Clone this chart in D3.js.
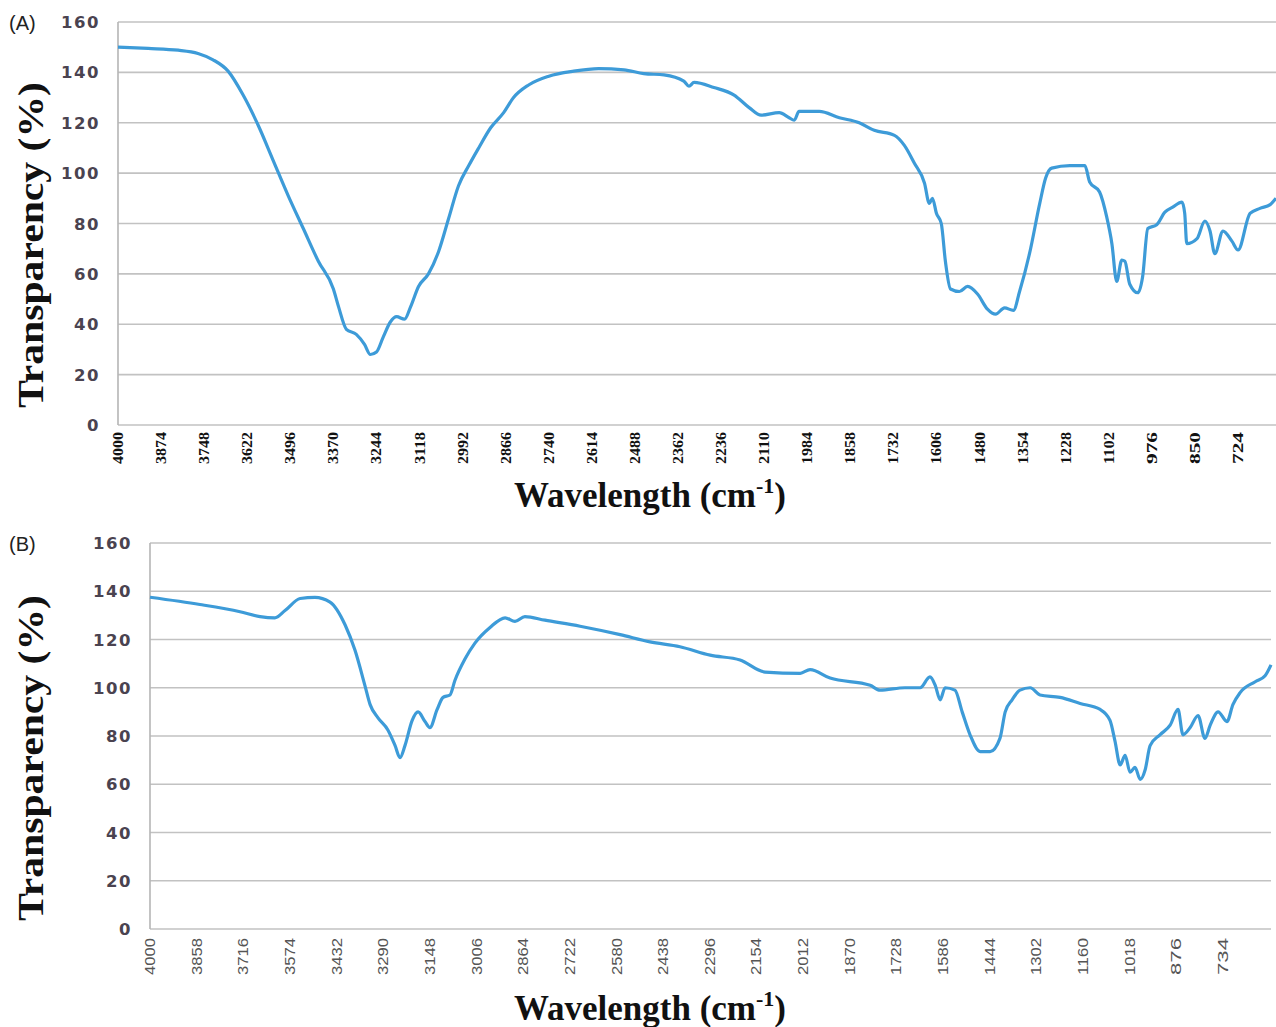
<html>
<head>
	<meta charset="utf-8">
	<script type="text/javascript" src="https://cdnjs.cloudflare.com/ajax/libs/d3/7.8.5/d3.min.js"></script>
	<style>
		body { margin: 0; background: #fff; }
	</style>
	<script type="text/javascript">
		// Panel A spectrum: wavenumber (cm-1) and transparency (%)
		var waveA = [4000, 3912, 3824, 3766, 3722, 3678, 3634, 3590, 3546, 3502, 3458, 3414, 3370, 3355, 3332, 3303,
			3279, 3262, 3244, 3224, 3203, 3185, 3162, 3144, 3121, 3092, 3062, 3033, 3004, 2974, 2945, 2910, 2872, 2843,
			2799, 2740, 2667, 2594, 2520, 2462, 2403, 2345, 2330, 2315, 2257, 2198, 2154, 2119, 2066, 2037, 2022, 2008,
			1949, 1890, 1832, 1788, 1729, 1700, 1671, 1641, 1627, 1618, 1606, 1592, 1580, 1565, 1539, 1515, 1486, 1457,
			1433, 1407, 1381, 1363, 1334, 1304, 1287, 1269, 1216, 1172, 1158, 1129, 1108, 1093, 1079, 1064, 1055, 1041,
			1017, 1003, 988, 962, 938, 915, 888, 880, 874, 844, 821, 806, 792, 768, 742, 724, 689, 660, 630, 613];
		var transA = [150, 149.5, 148.8, 147.5, 145, 140.5, 131, 119, 105, 91, 78, 65, 54, 47, 38, 36,
			32, 28, 29, 35, 41, 43, 42, 47, 55, 60, 69, 82, 95, 103, 110, 118, 124, 130,
			135, 138.5, 140.5, 141.5, 141, 139.5, 139, 136.5, 134.5, 136, 134, 131, 126, 123, 124, 122, 121, 124.5,
			124.5, 122, 120, 117, 115, 111, 104, 96, 88, 90, 84, 80, 65, 54, 53, 55, 52, 46,
			44, 46.5, 45.5, 53, 68, 88, 98, 102, 103, 103, 96.5, 92.5, 82.5, 72, 57, 65.5, 65, 56,
			52.5, 59, 78, 79.5, 84.5, 86.5, 88.5, 84, 72, 74, 81, 77, 68, 77, 73, 69.5, 84, 86, 87.5, 90];

		// Panel B spectrum
		var waveB = [4000, 3848, 3726, 3665, 3620, 3589, 3543, 3498, 3452, 3406, 3376, 3346, 3330, 3306, 3276, 3254,
			3239, 3224, 3202, 3184, 3163, 3148, 3126, 3108, 3087, 3072, 3041, 3011, 2965, 2919, 2889, 2859, 2798, 2691,
			2569, 2478, 2387, 2295, 2204, 2128, 2021, 1991, 1930, 1808, 1778, 1702, 1656, 1626, 1610, 1595, 1580, 1550,
			1528, 1504, 1473, 1443, 1413, 1397, 1376, 1352, 1321, 1291, 1230, 1169, 1108, 1078, 1063, 1047, 1032, 1017,
			1002, 986, 971, 956, 926, 895, 871, 856, 834, 810, 789, 773, 749, 722, 704, 682, 636, 606, 588];
		var transB = [137.5, 134.5, 131.5, 129.5, 129, 132, 137, 137.5, 135.5, 126, 115.5, 101, 93, 87.5, 82.5, 76,
			71, 76, 86.5, 90, 86, 83.5, 91, 96, 97, 103, 112, 118.5, 125, 129, 127.5, 129.5, 128, 125.5,
			122, 119, 117, 113.5, 111.5, 106.5, 106, 107.5, 104, 101, 99, 100, 100, 104.5, 101, 95, 100, 99,
			90, 80.5, 73.5, 73.5, 79, 90, 95, 99, 100, 97, 96, 93.5, 91, 86.5, 78, 68, 72, 65,
			67, 62, 66, 76, 80.5, 84.5, 91, 80.5, 83.5, 88.5, 79, 84.5, 90, 86, 93, 98, 102.5, 105, 109.5];

		// Axis tick labels
		var ticksA = [4000, 3874, 3748, 3622, 3496, 3370, 3244, 3118, 2992, 2866, 2740, 2614, 2488, 2362,
			2236, 2110, 1984, 1858, 1732, 1606, 1480, 1354, 1228, 1102, 976, 850, 724];
		var ticksB = [4000, 3858, 3716, 3574, 3432, 3290, 3148, 3006, 2864, 2722, 2580, 2438, 2296,
			2154, 2012, 1870, 1728, 1586, 1444, 1302, 1160, 1018, 876, 734];
		var yTicks = [0, 20, 40, 60, 80, 100, 120, 140, 160];

		function drawPanel(svg, p) {
			var x = d3.scaleLinear().domain(p.xDomain).range([p.left, p.right]);
			var y = d3.scaleLinear().domain([0, 160]).range([p.bottom, p.top]);
			var g = svg.append("g");

			// gridlines
			g.selectAll("line.grid").data(yTicks).enter().append("line")
				.attr("x1", p.left).attr("x2", p.right)
				.attr("y1", function(d) { return y(d); })
				.attr("y2", function(d) { return y(d); })
				.attr("stroke", "#c2c2c2").attr("stroke-width", 1.6);

			// left axis line
			g.append("line")
				.attr("x1", p.left).attr("x2", p.left)
				.attr("y1", p.top).attr("y2", p.bottom)
				.attr("stroke", "#b5b5b5").attr("stroke-width", 1.6);

			// y tick labels
			g.selectAll("text.ytick").data(yTicks).enter().append("text")
				.attr("x", p.left - 18)
				.attr("y", function(d) { return y(d) + 6; })
				.attr("text-anchor", "end")
				.attr("font-family", "DejaVu Sans")
				.attr("font-weight", "bold")
				.attr("font-size", 16.5)
				.attr("letter-spacing", 1.5)
				.attr("fill", "#4a4350")
				.text(function(d) { return d; });

			// x tick labels, rotated
			g.selectAll("text.xtick").data(p.ticks).enter().append("text")
				.attr("transform", function(d) { return "translate(" + (x(d) + 5) + "," + (p.bottom + p.tickGap) + ") rotate(-90)"; })
				.attr("text-anchor", "end")
				.attr("font-family", p.tickFont)
				.attr("font-weight", p.tickWeight)
				.attr("font-size", p.tickSize)
				.attr("textLength", p.tickLen)
				.attr("lengthAdjust", "spacingAndGlyphs")
				.attr("fill", p.tickColor)
				.text(function(d) { return d; });

			// spectrum
			var pts = p.wave.map(function(w, i) { return [w, p.trans[i]]; });
			var line = d3.line()
				.x(function(d) { return x(d[0]); })
				.y(function(d) { return y(d[1]); })
				.curve(d3.curveMonotoneX);
			g.append("path")
				.attr("d", line(pts))
				.attr("fill", "none")
				.attr("stroke", "#3d9bd8")
				.attr("stroke-width", 3.2)
				.attr("stroke-linejoin", "round");

			// y title
			g.append("text")
				.attr("transform", "translate(" + 43 + "," + p.yTitleY + ") rotate(-90)")
				.attr("text-anchor", "middle")
				.attr("font-family", "Liberation Serif")
				.attr("font-weight", "bold")
				.attr("font-size", 35)
				.attr("textLength", 326)
				.attr("lengthAdjust", "spacingAndGlyphs")
				.attr("fill", "#111")
				.text("Transparency (%)");

			// x title with superscript
			var xt = g.append("text")
				.attr("x", 650).attr("y", p.xTitleY)
				.attr("text-anchor", "middle")
				.attr("font-family", "Liberation Serif")
				.attr("font-weight", "bold")
				.attr("font-size", 35)
				.attr("fill", "#111");
			xt.append("tspan").text("Wavelength (cm");
			xt.append("tspan").attr("dy", -14).attr("font-size", 22).text("-1");
			xt.append("tspan").attr("dy", 14).text(")");

			// panel label
			g.append("text")
				.attr("x", 9).attr("y", p.top + 8)
				.attr("font-family", "Liberation Sans")
				.attr("font-size", 20)
				.attr("fill", "#222")
				.text(p.label);
		}

		function loadMeUp() {
			var svg = d3.select("#chart").append("svg")
				.attr("width", 1276)
				.attr("height", 1027);
			svg.append("rect").attr("width", 1276).attr("height", 1027).attr("fill", "#fff");

			drawPanel(svg, {
				label: "(A)", wave: waveA, trans: transA, ticks: ticksA,
				xDomain: [4000, 613], left: 118, right: 1276,
				top: 22, bottom: 425, tickGap: 7,
				tickFont: "Liberation Serif", tickWeight: "bold", tickSize: 15, tickLen: 32, tickColor: "#111",
				yTitleY: 245, xTitleY: 507
			});
			drawPanel(svg, {
				label: "(B)", wave: waveB, trans: transB, ticks: ticksB,
				xDomain: [4000, 588], left: 150, right: 1271,
				top: 543, bottom: 929, tickGap: 9,
				tickFont: "Liberation Sans", tickWeight: "normal", tickSize: 14, tickLen: 37, tickColor: "#555",
				yTitleY: 758, xTitleY: 1020
			});
		}
	</script>
</head>
<body onload="loadMeUp();">
<div id="chart"></div>
</body>
</html>
